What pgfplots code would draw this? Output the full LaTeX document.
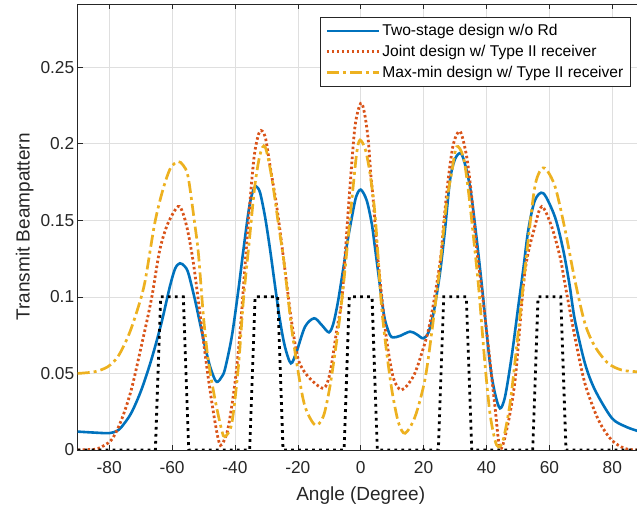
\documentclass[border=0pt]{standalone}
\usepackage{fontspec}
\setmainfont{Liberation Sans}
\usepackage{pgfplots}
\pgfplotsset{compat=1.18}
\definecolor{mblue}{rgb}{0,0.447,0.741}
\definecolor{mred}{rgb}{0.85,0.325,0.098}
\definecolor{myel}{rgb}{0.929,0.694,0.125}
\definecolor{mtxt}{rgb}{0.15,0.15,0.15}
\definecolor{mgrid}{rgb}{0.875,0.875,0.875}
\begin{document}
\begin{tikzpicture}
\begin{axis}[
  scale only axis, width=566bp, height=446bp,
  xmin=-90, xmax=90, ymin=0, ymax=0.2912,
  xtick={-80,-60,-40,-20,0,20,40,60,80},
  xticklabels={-80,-60,-40,-20,0,20,40,60,80},
  ytick={0,0.05,0.1,0.15,0.2,0.25},
  yticklabels={0,0.05,0.1,0.15,0.2,0.25},
  grid=major, major grid style={mgrid, line width=0.6bp},
  tick align=inside, major tick length=5bp,
  axis line style={mtxt, line width=0.6bp},
  every tick/.style={mtxt, line width=0.6bp},
  /pgf/number format/assume math mode=true,
  every tick label/.append style={font=\fontsize{17.3bp}{20bp}\selectfont, text=mtxt},
  xticklabel style={yshift=-8bp},
  xlabel={Angle (Degree)}, ylabel={Transmit Beampattern},
  every axis label/.append style={font=\fontsize{19bp}{22bp}\selectfont, text=mtxt},
  xlabel style={at={(rel axis cs:0.5,0)}, anchor=north, yshift=-33bp},
  legend style={at={(rel axis cs:0.977,0.970)}, anchor=north east, draw=mtxt, line width=0.6bp,
    font=\fontsize{15.6bp}{18bp}\selectfont, text=black, inner xsep=5bp, inner ysep=5bp, row sep=4bp},
  legend cell align=left,
  legend image code/.code={\draw[#1] (0bp,0bp) -- (52bp,0bp);},
]
\coordinate (sw) at (rel axis cs:0,0);
\addplot[mblue, line width=2.6bp, smooth] coordinates {
(-90,0.0120)(-85,0.0114)(-80,0.0110)(-77.5,0.0125)(-76,0.0152)(-73,0.024)(-69.8,0.039)(-66.6,0.0588)(-63.4,0.0827)(-60.7,0.1066)(-59,0.1185)(-57.5,0.1219)(-56,0.120)(-54.8,0.1154)(-52.7,0.098)(-51.1,0.0827)(-49.5,0.0675)(-47.9,0.0544)(-46.3,0.0457)(-45.4,0.0446)(-44.3,0.0475)(-43.2,0.0525)(-41,0.074)(-38.9,0.1045)(-37.3,0.1306)(-35.5,0.158)(-34.2,0.1695)(-33.2,0.172)(-32,0.168)(-30.4,0.152)(-28.8,0.1306)(-27.3,0.108)(-25.7,0.0849)(-24.1,0.0675)(-22.2,0.0566)(-20.4,0.0642)(-17.7,0.0805)(-14.8,0.086)(-12.4,0.0816)(-10.1,0.0768)(-8.7,0.0825)(-7.3,0.096)(-5.8,0.115)(-4.3,0.135)(-2.9,0.151)(-1.5,0.165)(0,0.170)(1.9,0.163)(3.5,0.148)(4.5,0.1328)(5.6,0.1154)(6.7,0.098)(7.7,0.085)(9.3,0.0751)(10.4,0.0735)(12.5,0.0745)(15.7,0.0773)(17.8,0.0755)(19.9,0.0729)(21.6,0.077)(23.3,0.091)(25.2,0.1154)(26.8,0.1437)(28.4,0.1763)(30,0.19)(31.9,0.1937)(33.5,0.184)(34.9,0.170)(36.3,0.148)(38.5,0.108)(41.1,0.0566)(42.7,0.037)(44.3,0.0272)(45.9,0.0348)(48,0.061)(50.1,0.0936)(51.7,0.118)(53.3,0.1437)(55.4,0.163)(58.1,0.1676)(61.8,0.152)(64.4,0.1306)(66.4,0.108)(68.1,0.0849)(71.3,0.0566)(74.5,0.0392)(79.8,0.021)(84,0.0155)(88,0.0125)(90,0.012)};
\addlegendentry{Two-stage design w/o Rd}
\addplot[mred, line width=2.8bp, dash pattern=on 2.5bp off 2.5bp, smooth] coordinates {
(-90,0)(-86,0.0003)(-83.5,0.001)(-79.3,0.0065)(-76.1,0.0196)(-73,0.039)(-69.8,0.0675)(-66.6,0.098)(-63.9,0.1306)(-61.3,0.148)(-58.1,0.159)(-56.5,0.1545)(-54.9,0.142)(-53.2,0.122)(-51.6,0.097)(-50,0.071)(-48.4,0.046)(-46.8,0.024)(-45.5,0.009)(-44.6,0.003)(-43.5,0.006)(-42.1,0.015)(-40,0.0435)(-38.4,0.0762)(-36.8,0.12)(-35.3,0.16)(-33.8,0.193)(-32.1,0.208)(-30.4,0.2046)(-28.8,0.185)(-26.7,0.159)(-24.6,0.126)(-23.5,0.108)(-21.9,0.0827)(-19.8,0.0588)(-16.7,0.0479)(-11.9,0.0403)(-9.8,0.05)(-7.6,0.0784)(-6,0.098)(-4.8,0.132)(-3.4,0.172)(-1.8,0.2115)(0,0.2264)(1.2,0.220)(2.4,0.2024)(3.2,0.18)(4,0.163)(5.1,0.1328)(6.7,0.1)(8.3,0.071)(10.4,0.047)(13,0.0392)(16.7,0.0479)(19.4,0.0631)(22,0.0827)(25.2,0.122)(26.5,0.15)(27.9,0.178)(29.5,0.2)(31.6,0.208)(33.7,0.1915)(35.3,0.165)(36.9,0.1306)(38.5,0.105)(40.6,0.0675)(42.7,0.0283)(44.3,0.001)(46.4,0.013)(49.1,0.0457)(52.2,0.116)(55.4,0.146)(57.6,0.159)(60.7,0.146)(63.4,0.126)(65,0.108)(68.1,0.074)(71.3,0.0435)(75.6,0.0196)(79.8,0.0065)(84,0.001)(88,0)(90,0)};
\addlegendentry{Joint design w/ Type II receiver}
\addplot[myel, line width=2.7bp, dash pattern=on 12bp off 4bp on 3bp off 4bp, smooth] coordinates {
(-90,0.050)(-84.6,0.0511)(-80.4,0.0544)(-77.2,0.061)(-74,0.074)(-71.4,0.089)(-68.7,0.109)(-65.5,0.148)(-62.9,0.17)(-60.5,0.184)(-58.1,0.1883)(-56.5,0.186)(-54.9,0.1785)(-52.8,0.148)(-51.6,0.128)(-50,0.087)(-48.5,0.0588)(-46.3,0.0327)(-44.2,0.013)(-43.2,0.0087)(-41,0.0174)(-38.9,0.0544)(-37.3,0.098)(-35.5,0.135)(-33.7,0.172)(-32,0.193)(-30.4,0.198)(-28.3,0.178)(-26.2,0.148)(-24.6,0.126)(-23.5,0.1066)(-21.9,0.0784)(-19.8,0.05)(-17.7,0.0283)(-14.5,0.0163)(-11.9,0.0218)(-9.8,0.0413)(-7.6,0.0718)(-6,0.098)(-4.5,0.128)(-2.4,0.172)(-1.2,0.195)(-0.2,0.2024)(1.5,0.196)(3,0.18)(4.5,0.155)(5.6,0.124)(6.7,0.092)(8.3,0.063)(10,0.038)(12,0.018)(14.1,0.0109)(17.3,0.0218)(20.4,0.0457)(22.6,0.077)(25.2,0.12)(27.2,0.16)(28.9,0.1807)(30.5,0.198)(32.6,0.1915)(34.2,0.17)(36.3,0.1306)(37.6,0.104)(39.5,0.0566)(41.1,0.024)(42.7,0.0065)(43.8,0.002)(45.3,0.0065)(47.5,0.0305)(49.6,0.0675)(51.7,0.108)(54.9,0.1654)(56.5,0.18)(58.6,0.184)(61.8,0.172)(65,0.1437)(68.1,0.111)(71.3,0.0827)(74.5,0.0675)(78.7,0.0566)(83,0.0522)(87.8,0.0511)(90,0.051)};
\addlegendentry{Max-min design w/ Type II receiver}
\addplot[black, line width=2.8bp, dash pattern=on 2.8bp off 4.2bp, forget plot] coordinates {
(-90,0)(-65.3,0)(-63.6,0.1)(-56.4,0.1)(-54.7,0)(-35.3,0)(-33.6,0.1)(-26.4,0.1)(-24.7,0)(-5.3,0)(-3.6,0.1)(3.6,0.1)(5.3,0)(24.7,0)(26.4,0.1)(33.6,0.1)(35.3,0)(54.7,0)(56.4,0.1)(63.6,0.1)(65.3,0)(90,0)};
\end{axis}
\pgfresetboundingbox
\path[use as bounding box] (sw) ++(-77.7bp,-57bp) rectangle ++(637bp,507bp);
\end{tikzpicture}
\end{document}
